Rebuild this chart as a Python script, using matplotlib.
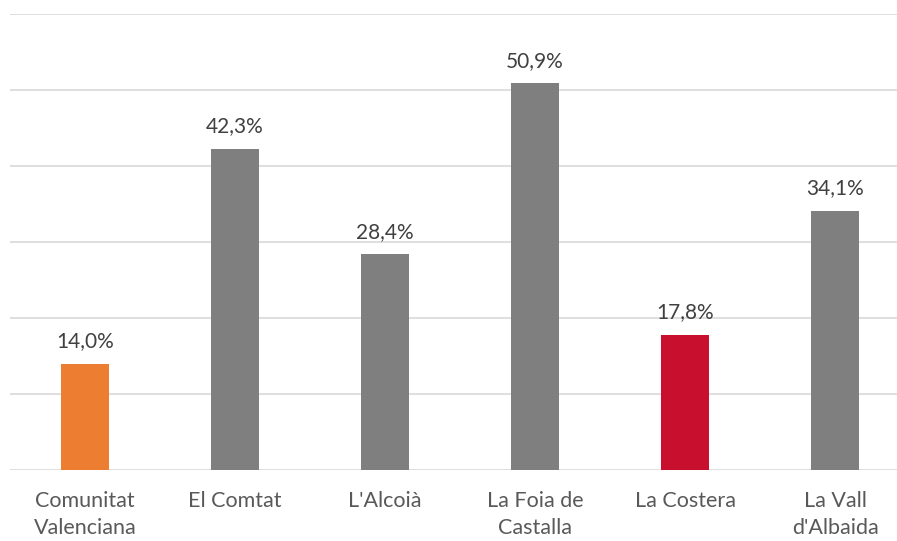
import numpy as np
import matplotlib.pyplot as plt

plt.rcParams['font.family'] = ['Lato', 'DejaVu Sans']

categories = ['Comunitat\nValenciana', 'El Comtat', "L'Alcoià", 'La Foia de\nCastalla', 'La Costera', "La Vall\nd'Albaida"]
values = [14.0, 42.3, 28.4, 50.9, 17.8, 34.1]
labels = ['14,0%', '42,3%', '28,4%', '50,9%', '17,8%', '34,1%']
colors = ['#ED7D31', '#7F7F7F', '#7F7F7F', '#7F7F7F', '#C8102E', '#7F7F7F']

W, H = 897, 541
fig = plt.figure(figsize=(W/100, H/100), dpi=100)
ax = fig.add_axes([10/W, (H-470)/H, (W-10)/W, 456/H])

x = np.arange(len(values))
ax.bar(x, values, width=0.32, color=colors, zorder=3)
for xi, v, l in zip(x, values, labels):
    ax.annotate(l, (xi, v), xytext=(0, 9), textcoords='offset points',
                ha='center', va='bottom', fontsize=15, color='#404040')

ax.set_ylim(0, 60)
ax.set_xlim(-0.5, 5.5 - 13/150)
ax.set_yticks(np.arange(0, 61, 10))
ax.set_yticklabels([])
ax.tick_params(axis='y', length=0)
ax.set_xticks(x)
ax.set_xticklabels(categories, fontsize=15.5, color='#595959', linespacing=1.45)
ax.tick_params(axis='x', length=0, pad=15)
ax.grid(axis='y', color='#D9D9D9', linewidth=1.2, zorder=0)
for s in ax.spines.values():
    s.set_visible(False)

fig.savefig('out.png', dpi=100)
